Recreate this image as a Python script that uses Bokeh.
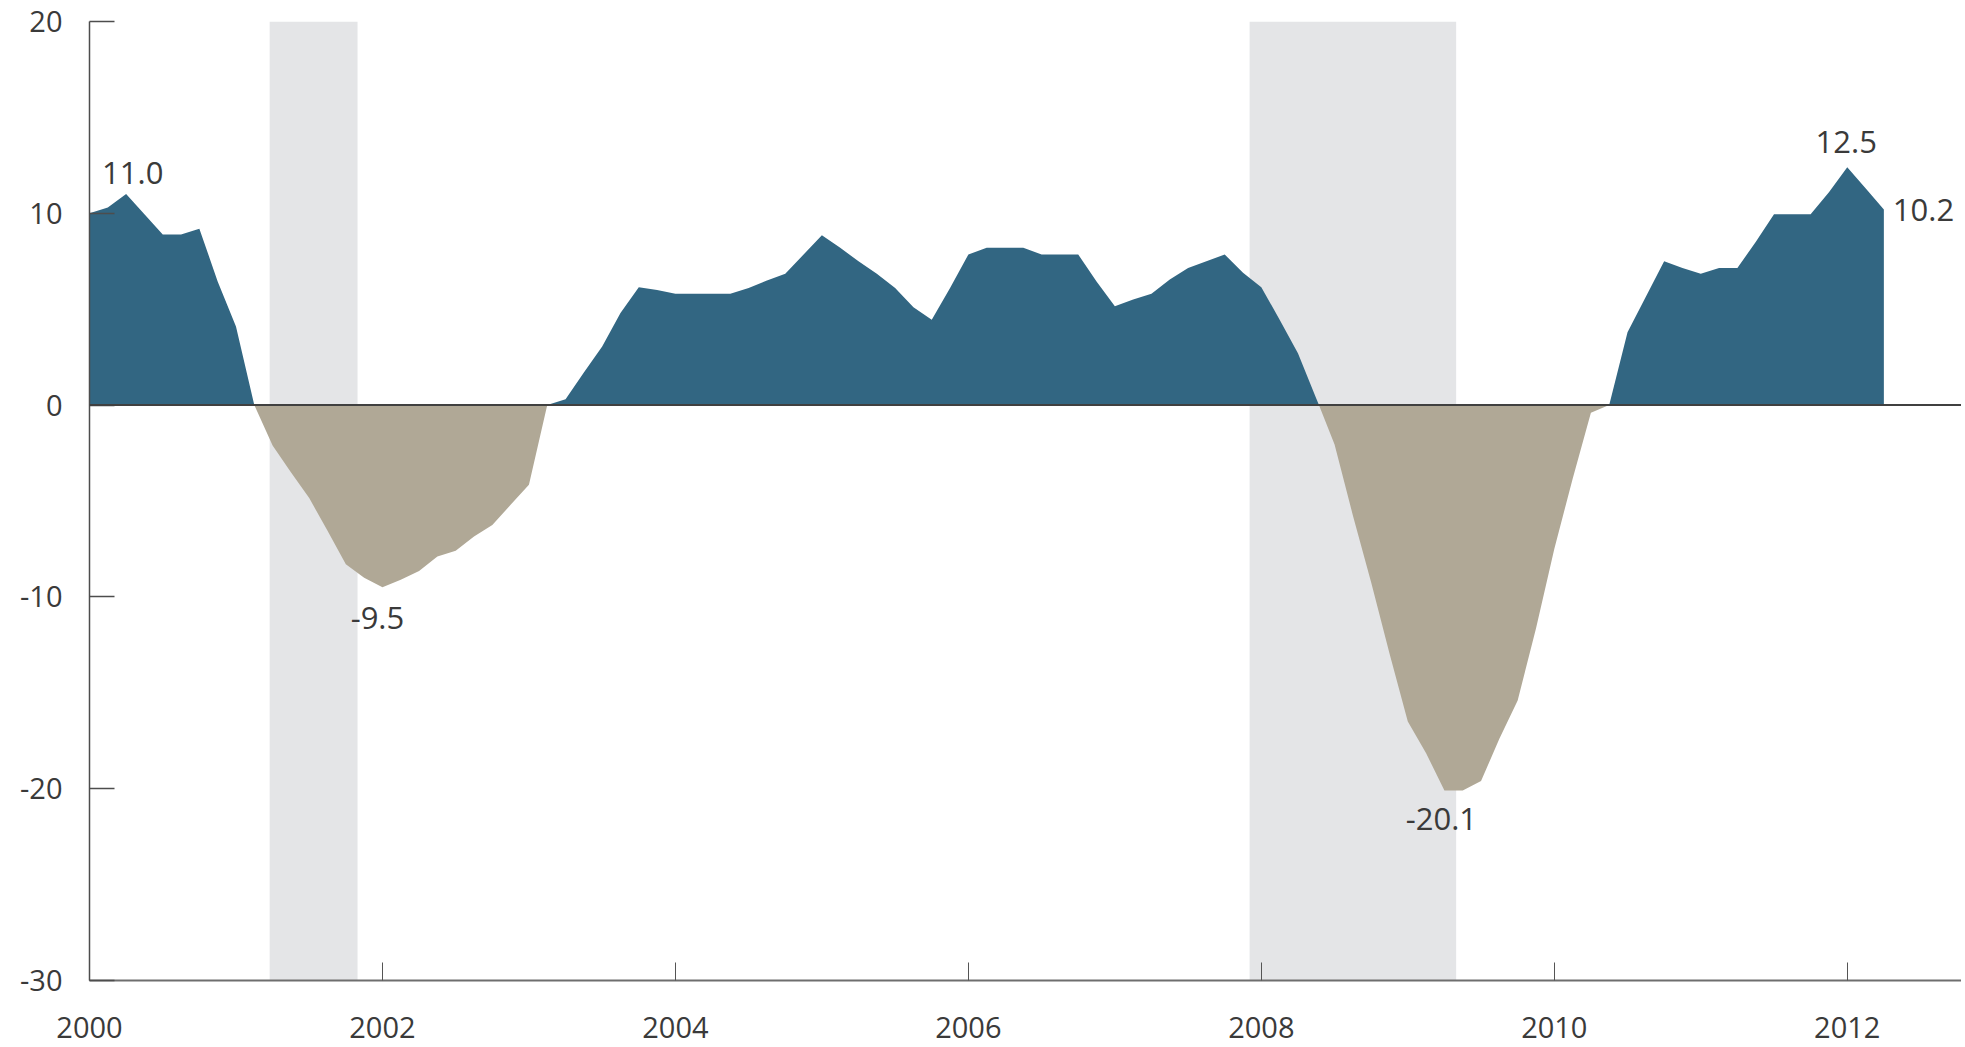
from bokeh.plotting import figure
from bokeh.models import Range1d, FixedTicker, Span, ColumnDataSource
from bokeh.embed import file_html
from bokeh.resources import INLINE
from bokeh.core.properties import value

# ---------------- data ----------------
start_year = 2000.0
points_per_year = 8
values = [
    10.0, 10.3, 11.0, 9.95, 8.9, 8.9, 9.2, 6.45, 4.1, 0.0,
    -2.1, -3.5, -4.85, -6.55, -8.3, -9.0, -9.5, -9.1, -8.65, -7.9,
    -7.6, -6.85, -6.25, -5.2, -4.15, 0.0, 0.3, 1.7, 3.05, 4.8,
    6.15, 6.0, 5.8, 5.8, 5.8, 5.8, 6.1, 6.5, 6.85, 7.85,
    8.85, 8.2, 7.5, 6.85, 6.1, 5.1, 4.45, 6.1, 7.85, 8.2,
    8.2, 8.2, 7.85, 7.85, 7.85, 6.45, 5.15, 5.5, 5.8, 6.55,
    7.15, 7.5, 7.85, 6.9, 6.15, 4.45, 2.7, 0.35, -2.05, -5.75,
    -9.25, -12.95, -16.5, -18.15, -20.1, -20.1, -19.6, -17.4, -15.4, -11.65,
    -7.5, -3.85, -0.4, 0.0, 3.8, 5.65, 7.5, 7.15, 6.85, 7.15,
    7.15, 8.5, 9.95, 9.95, 9.95, 11.1, 12.4, 11.3, 10.2,
]
dates = [start_year + i / points_per_year for i in range(len(values))]

recession_start = [2001.23, 2007.92]
recession_end = [2001.83, 2009.33]

# annotated points: index into the series, text shown
ann_index = [2, 16, 74, 96, 98]
ann_text = ["11.0", "-9.5", "-20.1", "12.5", "10.2"]
ann_align = ["left", "center", "center", "center", "left"]
ann_dx = [-24, -5, -3, -1, 9]
ann_dy = [-21, 31, 28, -25, 1]

xtick_values = [2000, 2002, 2004, 2006, 2008, 2010, 2012]
xtick_labels = ["2000", "2002", "2004", "2006", "2008", "2010", "2012"]
ytick_values = [-30, -20, -10, 0, 10, 20]
ytick_labels = ["-30", "-20", "-10", "0", "10", "20"]

# ---------------- styling ----------------
BLUE = "#326682"
TAN = "#b0a896"
BAND = "#e4e5e7"
TEXT = "#3a3a3a"
FONT = "Open Sans"

# split into positive / negative areas with zero crossings inserted
px, py = [], []
for i, (d, v) in enumerate(zip(dates, values)):
    if i > 0:
        v0 = values[i - 1]
        if (v0 < 0 < v) or (v0 > 0 > v):
            t = v0 / (v0 - v)
            px.append(dates[i - 1] + t * (d - dates[i - 1]))
            py.append(0.0)
    px.append(d)
    py.append(v)
area = ColumnDataSource(dict(
    x=px,
    zero=[0.0] * len(px),
    pos=[max(y, 0.0) for y in py],
    neg=[min(y, 0.0) for y in py],
))

p = figure(
    width=1961, height=1047,
    x_range=Range1d(2000, 2012.78), y_range=Range1d(-30, 20),
    output_backend="svg", toolbar_location=None,
    min_border_left=89, min_border_right=0, min_border_top=21, min_border_bottom=67,
)
p.outline_line_color = None
p.grid.visible = False
p.background_fill_color = "white"
p.border_fill_color = "white"

# recession bands
p.quad(left=recession_start, right=recession_end, bottom=-30, top=20,
       fill_color=BAND, line_color=None)

# areas
p.varea(x="x", y1="zero", y2="pos", source=area, fill_color=BLUE)
p.varea(x="x", y1="zero", y2="neg", source=area, fill_color=TAN)

# zero line
p.add_layout(Span(location=0, dimension="width", line_color="#404040", line_width=2))

# annotations
for idx, txt, al, dx, dy in zip(ann_index, ann_text, ann_align, ann_dx, ann_dy):
    p.text(x=[dates[idx]], y=[values[idx]], text=[txt],
           text_font=value(FONT), text_font_size="31px", text_color=TEXT,
           text_align=al, text_baseline="alphabetic", x_offset=dx, y_offset=dy)

# axes
xa = p.xaxis[0]
xa.ticker = FixedTicker(ticks=xtick_values)
xa.major_label_overrides = {v: l for v, l in zip(xtick_values, xtick_labels)}
xa.major_tick_in = 18
xa.major_tick_out = 0
xa.minor_tick_line_color = None
xa.major_tick_line_color = "#555555"
xa.major_tick_line_width = 1
xa.axis_line_color = "#6e6e6e"
xa.axis_line_width = 2
xa.major_label_standoff = 36
xa.major_label_text_font = FONT
xa.major_label_text_font_size = "29px"
xa.major_label_text_color = TEXT

ya = p.yaxis[0]
ya.ticker = FixedTicker(ticks=ytick_values)
ya.major_label_overrides = {v: l for v, l in zip(ytick_values, ytick_labels)}
ya.major_tick_in = 25
ya.major_tick_out = 0
ya.minor_tick_line_color = None
ya.major_tick_line_color = "#4d4d4d"
ya.major_tick_line_width = 1.5
ya.axis_line_color = "#4d4d4d"
ya.axis_line_width = 1.5
ya.major_label_standoff = 27
ya.major_label_text_font = FONT
ya.major_label_text_font_size = "29px"
ya.major_label_text_color = TEXT

open("out.html", "w").write(file_html(p, INLINE))
